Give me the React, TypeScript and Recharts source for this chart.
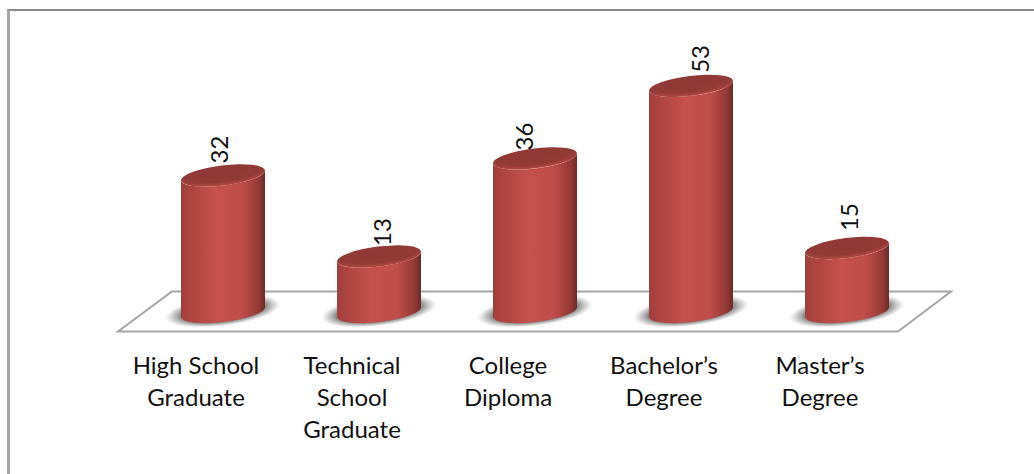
import { Bar, BarChart, LabelList, XAxis, YAxis, usePlotArea } from 'recharts';

const categories = [
  'High School\nGraduate',
  'Technical\nSchool\nGraduate',
  'College\nDiploma',
  'Bachelor’s\nDegree',
  'Master’s\nDegree',
];
const values = [32, 13, 36, 53, 15];

const chartData = categories.map((name, i) => ({ name, value: values[i] }));

const FONT = 'Lato, "Open Sans", sans-serif';
const TILT = -7;
const LIFT = 5;
const RIM = 10;

// the labels were dragged by hand in the original, so each one sits a bit differently
const LABEL_NUDGE = [
  [-4, 12],
  [3, 10.5],
  [-11, 8],
  [9, 13],
  [1.5, 17],
];

// the grey plate the cylinders stand on
const Floor = () => {
  const plot = usePlotArea();
  if (!plot) return null;
  const left = plot.x;
  const right = plot.x + plot.width;
  const base = plot.y + plot.height;
  const pts = [
    [left - 27, base + 19.5],
    [right - 27, base + 19.5],
    [right + 26, base - 20.5],
    [left + 27, base - 20.5],
  ];
  return <polygon points={pts.map((p) => p.join(',')).join(' ')} fill="#fff" stroke="#a6a6a6" strokeWidth={2} />;
};

const Cylinder = ({ x, y, width, height }: any) => {
  const rx = width / 2;
  const cx = x + rx;
  const base = y + height;
  const side = [
    `M${x},${y + LIFT}`,
    `L${x},${base + LIFT}`,
    `A${rx + 0.3},${RIM} ${TILT} 0 0 ${x + width},${base - LIFT}`,
    `L${x + width},${y - LIFT}`,
    `A${rx + 0.3},${RIM} ${TILT} 0 1 ${x},${y + LIFT}`,
    'Z',
  ].join(' ');
  return (
    <g>
      <ellipse cx={cx} cy={base - 1} rx={58} ry={15} fill="url(#shadow)" transform={`rotate(${TILT} ${cx} ${base})`} />
      <path d={side} fill="url(#wall)" />
      <ellipse cx={cx} cy={y} rx={rx + 0.3} ry={RIM} fill="url(#lid)" transform={`rotate(${TILT} ${cx} ${y})`} />
    </g>
  );
};

// axis text sits left of the cylinders, same as the skewed floor
const CategoryTick = ({ x, y, payload }: any) => (
  <text x={x - 27} y={y + 62} dy={-6} textAnchor="middle" fontFamily={FONT} fontSize={24} fill="#111">
    {String(payload.value)
      .split('\n')
      .map((line, i) => (
        <tspan key={line} x={x - 27} dy={i === 0 ? -6 : 32}>
          {line}
        </tspan>
      ))}
  </text>
);

const ValueLabel = ({ x, y, width, value, index }: any) => {
  const [dx, gap] = LABEL_NUDGE[index] ?? [0, 12];
  const cx = x + width / 2 + dx;
  const bottom = y - gap;
  return (
    <text
      x={cx}
      y={bottom}
      transform={`rotate(-90 ${cx} ${bottom})`}
      textAnchor="start"
      dominantBaseline="central"
      fontFamily={FONT}
      fontSize={24}
      fill="#111"
    >
      {value}
    </text>
  );
};

export default function App() {
  return (
    <div style={{ position: 'absolute', left: 0, top: 0, width: 1034, height: 474, background: '#fff', overflow: 'hidden' }}>
      <div
        style={{
          position: 'absolute',
          left: 7,
          top: 9,
          width: 1027,
          height: 465,
          borderTop: '2px solid #8c8c8c',
          borderLeft: '3px solid #a6a6a6',
        }}
      />
      <div style={{ position: 'absolute', left: 0, top: 0 }}>
        <BarChart
          width={1034}
          height={474}
          data={chartData}
          margin={{ top: 56, right: 109, bottom: 132, left: 145 }}
          barSize={84}
        >
          <defs>
            <linearGradient id="wall" x1="0" y1="0" x2="1" y2="0">
              <stop offset="0" stopColor="#a03f3d" />
              <stop offset="0.12" stopColor="#ad4442" />
              <stop offset="0.42" stopColor="#c6504e" />
              <stop offset="0.72" stopColor="#bf4d4a" />
              <stop offset="0.92" stopColor="#953a38" />
              <stop offset="1" stopColor="#6d2a28" />
            </linearGradient>
            <radialGradient id="lid" cx="0.5" cy="0.35" r="0.68">
              <stop offset="0" stopColor="#8c3836" />
              <stop offset="0.68" stopColor="#923a38" />
              <stop offset="1" stopColor="#bd4d4a" />
            </radialGradient>
            <radialGradient id="shadow">
              <stop offset="0" stopColor="#606060" />
              <stop offset="0.72" stopColor="#808080" />
              <stop offset="1" stopColor="#a0a0a0" stopOpacity={0} />
            </radialGradient>
          </defs>
          <Floor />
          <XAxis
            dataKey="name"
            axisLine={false}
            tickLine={false}
            interval={0}
            height={30}
            tickMargin={0}
            tick={<CategoryTick />}
          />
          <YAxis hide domain={[0, 60]} />
          <Bar dataKey="value" shape={<Cylinder />} isAnimationActive={false}>
            <LabelList dataKey="value" content={<ValueLabel />} />
          </Bar>
        </BarChart>
      </div>
    </div>
  );
}
